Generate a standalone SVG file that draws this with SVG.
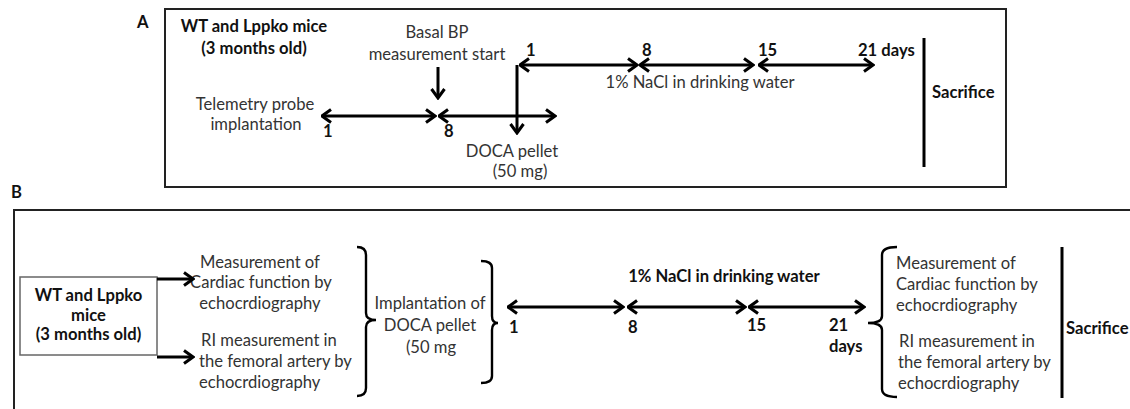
<svg xmlns="http://www.w3.org/2000/svg" width="1130" height="409" viewBox="0 0 1130 409">
<style>
text{font-family:Lato,"Open Sans","Liberation Sans",sans-serif;font-size:16.6px;fill:#333}
.b{font-weight:bold;fill:#111}
.c{text-anchor:middle}
.ln{stroke:#000;stroke-width:3;fill:none}
.ar{stroke:#000;stroke-width:3;fill:none;marker-end:url(#ah)}
.da{stroke:#000;stroke-width:3;fill:none;marker-start:url(#ah);marker-end:url(#ah)}
.br{stroke:#000;stroke-width:2.4;fill:none}
.frame{stroke:#222;stroke-width:2;fill:none}
</style>
<defs>
<marker id="ah" viewBox="0 0 12 16" refX="10.5" refY="8" markerWidth="12" markerHeight="16" markerUnits="userSpaceOnUse" orient="auto-start-reverse">
<path d="M1.5,1.5 L10.5,8 L1.5,14.5" stroke="#000" stroke-width="3" fill="none"/>
</marker>
</defs>

<g id="panelA">
<text class="b" x="137" y="28">A</text>
<rect class="frame" x="165" y="9" width="841" height="178"/>
</g>
<g id="a-mice"><text class="b c" x="254" y="32">WT and Lppko mice</text><text class="b c" x="254" y="54">(3 months old)</text></g>
<g id="a-basal"><text class="c" x="437" y="38">Basal BP</text><text class="c" x="437" y="60">measurement start</text></g>
<g id="a-telemetry"><text class="c" x="255" y="110">Telemetry probe</text><text class="c" x="256" y="130">implantation</text></g>
<g id="a-doca"><text class="c" x="512" y="157">DOCA pellet</text><text class="c" x="520" y="177">(50 mg)</text></g>
<g id="a-nacl"><text class="c" x="700" y="88">1% NaCl in drinking water</text></g>
<g id="a-sacrifice"><text class="b" x="932" y="98">Sacrifice</text></g>
<g id="a-days">
<text class="b" x="323" y="137">1</text>
<text class="b" x="444" y="137">8</text>
<text class="b" x="526" y="56">1</text>
<text class="b" x="642" y="56">8</text>
<text class="b" x="758" y="56">15</text>
<text class="b" x="858" y="56">21 days</text>
</g>
<g id="a-connectors">
<line class="ar" x1="438" y1="67" x2="438" y2="98"/>
<line class="da" x1="322" y1="116" x2="435" y2="116"/>
<line class="da" x1="439" y1="116" x2="555" y2="116"/>
<line class="ar" x1="517" y1="65" x2="517" y2="133"/>
<line class="da" x1="520" y1="65" x2="637" y2="65"/>
<line class="da" x1="640" y1="65" x2="753" y2="65"/>
<line class="da" x1="759" y1="65" x2="873" y2="65"/>
<line class="ln" x1="924" y1="38" x2="924" y2="167"/>
</g>

<g id="panelB">
<text class="b" x="11" y="198">B</text>
<path class="frame" d="M1132,210 H14 V411"/>
</g>
<g id="b-mice">
<rect x="20" y="277" width="137" height="78" fill="#fff" stroke="#666" stroke-width="1.5"/>
<text class="b c" x="88.5" y="301">WT and Lppko</text>
<text class="b c" x="88.5" y="321">mice</text>
<text class="b c" x="88.5" y="340">(3 months old)</text>
</g>
<g id="b-cardiac1">
<text class="c" x="260" y="268">Measurement of</text>
<text class="c" x="261" y="288">Cardiac function by</text>
<text class="c" x="260" y="309">echocrdiography</text>
</g>
<g id="b-ri1">
<text x="201" y="346">RI measurement in</text>
<text x="199" y="367">the femoral artery by</text>
<text x="199" y="388">echocrdiography</text>
</g>
<g id="b-implant">
<text class="c" x="430" y="309">Implantation of</text>
<text class="c" x="430" y="331">DOCA pellet</text>
<text class="c" x="431" y="353">(50 mg</text>
</g>
<g id="b-nacl"><text class="b c" x="724" y="282">1% NaCl in drinking water</text></g>
<g id="b-days">
<text class="b" x="509" y="333">1</text>
<text class="b" x="628" y="333">8</text>
<text class="b" x="747" y="331">15</text>
<text class="b" x="829" y="331">21</text>
<text class="b" x="829" y="352">days</text>
</g>
<g id="b-cardiac2">
<text x="896" y="269">Measurement of</text>
<text x="896" y="290">Cardiac function by</text>
<text x="896" y="311">echocrdiography</text>
</g>
<g id="b-ri2">
<text x="899" y="347">RI measurement in</text>
<text x="898" y="368">the femoral artery by</text>
<text x="898" y="389">echocrdiography</text>
</g>
<g id="b-sacrifice"><text class="b" x="1066" y="334">Sacrifice</text></g>
<g id="b-connectors">
<line class="ar" x1="157" y1="279" x2="193" y2="279"/>
<line class="ar" x1="157" y1="357" x2="193" y2="357"/>
<path class="br" d="M357,247 Q366,247 366,255 V313 Q366,320 376,320 Q366,320 366,327 V388 Q366,396 357,396"/>
<path class="br" d="M481,261 Q492,261 492,268 V316 Q492,323 498,323 Q492,323 492,330 V376 Q492,383 481,383"/>
<line class="da" x1="508" y1="307" x2="623" y2="307"/>
<line class="da" x1="628" y1="307" x2="745" y2="307"/>
<line class="da" x1="749" y1="307" x2="864" y2="307"/>
<path class="br" d="M897,247 Q882,247 882,255 V316 Q882,323 868,323 Q882,323 882,330 V389 Q882,397 897,397"/>
<line class="ln" x1="1062" y1="247" x2="1062" y2="398"/>
</g>
</svg>
